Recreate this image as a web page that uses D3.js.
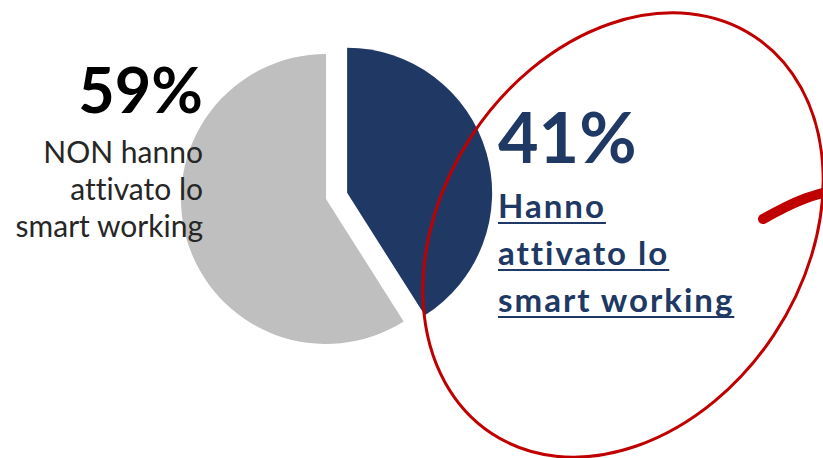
<!DOCTYPE html>
<html>
<head>
<meta charset="utf-8">
<script src="https://cdn.jsdelivr.net/npm/d3@7"></script>
<style>
  html, body { margin: 0; padding: 0; background: #ffffff; }
  svg { display: block; }
  text { font-variant-ligatures: none; font-feature-settings: "liga" 0, "clig" 0; }
</style>
</head>
<body>
<svg id="chart" width="823" height="458"></svg>
<script>
// Share of respondents who activated smart working
const categories = ["Hanno attivato lo smart working", "NON hanno attivato lo smart working"];
const values = [41, 59];
const valueLabels = ["41%", "59%"];
const colors = ["#203864", "#bfbfbf"];
const activeLines = ["Hanno", "attivato lo", "smart working"];
const inactiveLines = ["NON hanno", "attivato lo", "smart working"];

const svg = d3.select("#chart");

const cx = 326, cy = 199, radius = 145, explode = 22;

const pie = d3.pie().sort(null).value(d => d)(values);
const arc = d3.arc().innerRadius(0).outerRadius(radius);

const pieG = svg.append("g").attr("transform", `translate(${cx},${cy})`);
pieG.selectAll("path")
  .data(pie)
  .join("path")
  .attr("d", arc)
  .attr("fill", (d, i) => colors[i])
  .attr("transform", (d, i) => {
    if (i !== 0) return null;
    const mid = (d.startAngle + d.endAngle) / 2;
    return `translate(${Math.sin(mid) * explode},${-Math.cos(mid) * explode})`;
  });

const font = "Lato, 'Open Sans', sans-serif";

// Left label: share that did not activate
const leftX = 203;
svg.append("text")
  .attr("x", leftX).attr("y", 113)
  .attr("text-anchor", "end")
  .attr("font-family", font).attr("font-weight", 700)
  .attr("font-size", 63).attr("fill", "#000000")
  .text(valueLabels[1]);

svg.append("g").selectAll("text")
  .data(inactiveLines)
  .join("text")
  .attr("x", leftX)
  .attr("y", (d, i) => 163 + i * 37)
  .attr("text-anchor", "end")
  .attr("font-family", font)
  .attr("font-size", 30)
  .attr("fill", "#262626")
  .text(d => d);

// Right label: share that activated, underlined
const rightX = 498;
svg.append("text")
  .attr("x", rightX).attr("y", 163)
  .attr("font-family", font).attr("font-weight", 700)
  .attr("font-size", 70).attr("fill", colors[0])
  .text(valueLabels[0]);

const rl = svg.append("g");
activeLines.forEach((line, i) => {
  const y = 218 + i * 47;
  const t = rl.append("text")
    .attr("x", rightX).attr("y", y)
    .attr("font-family", font).attr("font-weight", 700)
    .attr("font-size", 33).attr("letter-spacing", 2)
    .attr("fill", colors[0])
    .text(line);
  const w = t.node().getComputedTextLength();
  rl.append("rect")
    .attr("x", rightX).attr("y", y + 4)
    .attr("width", w).attr("height", 2)
    .attr("fill", colors[0]);
});

// Hand-drawn style highlight ring and pen stroke
svg.append("ellipse")
  .attr("cx", 623).attr("cy", 235)
  .attr("rx", 181).attr("ry", 238)
  .attr("transform", "rotate(33.6,623,235)")
  .attr("fill", "none")
  .attr("stroke", "#c00000")
  .attr("stroke-width", 3);

svg.append("path")
  .attr("d", d3.line().curve(d3.curveBasis)([[763, 219], [785, 207], [805, 198], [826, 192]]))
  .attr("fill", "none")
  .attr("stroke", "#c00000")
  .attr("stroke-width", 10)
  .attr("stroke-linecap", "round");
</script>
</body>
</html>
